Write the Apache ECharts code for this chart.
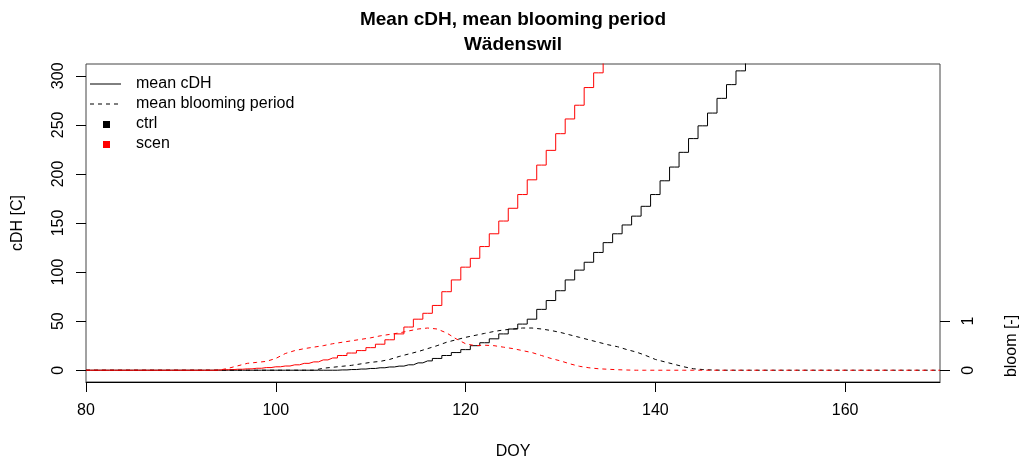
<!DOCTYPE html>
<html>
<head>
<meta charset="utf-8">
<script src="https://cdn.jsdelivr.net/npm/echarts@6/dist/echarts.min.js"></script>
<style>
html,body{margin:0;padding:0;background:#fff;}
#chart{width:1022px;height:466px;}
</style>
</head>
<body>
<div id="chart"></div>
<script>
// Day of year (x values)
const days = [80,81,82,83,84,85,86,87,88,89,90,91,92,93,94,95,96,97,98,99,
  100,101,102,103,104,105,106,107,108,109,110,111,112,113,114,115,116,117,118,119,
  120,121,122,123,124,125,126,127,128,129,130,131,132,133,134,135,136,137,138,139,
  140,141,142,143,144,145,146,147,148,149,150,151,152,153,154,155,156,157,158,159,
  160,161,162,163,164,165,166,167,168,169,170];

// mean cDH, ctrl (from day 80)
const ctrlCDH = [0,0,0,0,0,0,0,0,0,0,0,0,0,0,0,0,0,0,0,0,
  0,0,0,0,0,0,0,0.3,0.7,1.2,1.8,2.5,3.3,4.2,5.5,7.5,9.5,12,15,18,
  21,25,28,32,37,42,47,52,62,71,81,92,102,110,120,130,139,148,157,167,
  179,193,207,222,236,249,262,277,291,305,320,335];

// mean cDH, scen (from day 80)
const scenCDH = [0,0,0,0,0,0,0,0,0,0,0,0,0,0,0.3,0.6,1,1.4,2,2.7,
  3.5,4.3,5.5,7,8.5,10.5,12.5,15,17.5,20,23,26.5,31,37,44,52,58,66,80,92,
  105,114,126,139,152,165,179,194,209,224,241,256,270,288,303,318,333];

// mean blooming period [-], ctrl (from day 80)
const ctrlBloom = [0,0,0,0,0,0,0,0,0,0,0,0,0,0,0,0,0,0,0,0,
  0,0,0,0,0,0.04,0.06,0.08,0.10,0.13,0.16,0.18,0.22,0.28,0.33,0.38,0.44,0.50,0.57,0.62,
  0.67,0.71,0.75,0.79,0.82,0.84,0.86,0.86,0.84,0.81,0.77,0.72,0.67,0.62,0.57,0.52,0.48,0.42,0.37,0.30,
  0.22,0.17,0.12,0.07,0.03,0.014,0.004,0,0,0,0,0,0,0,0,0,0,0,0,0,
  0,0,0,0,0,0,0,0,0,0,0];

// mean blooming period [-], scen (from day 80)
const scenBloom = [0,0,0,0,0,0,0,0,0,0,0,0,0,0,0,0.04,0.09,0.14,0.16,0.18,
  0.24,0.34,0.40,0.44,0.47,0.50,0.54,0.57,0.60,0.63,0.66,0.70,0.73,0.76,0.80,0.84,0.86,0.84,0.76,0.64,
  0.54,0.50,0.51,0.50,0.47,0.44,0.40,0.36,0.30,0.24,0.19,0.13,0.08,0.05,0.03,0.02,0.01,0.004,0,0,
  0,0,0,0,0,0,0,0,0,0,0,0,0,0,0,0,0,0,0,0,
  0,0,0,0,0,0,0,0,0,0,0];

const xTicks = [80,100,120,140,160];
const yTicks = [0,50,100,150,200,250,300];
const bloomTicks = [0,1];

const titleMain = 'Mean cDH, mean blooming period';
const titleSub = 'Wädenswil';
const legendLabels = ['mean cDH','mean blooming period','ctrl','scen'];

function pairs(vals){ return vals.map((v,i)=>[days[i], v]); }

const FONT = "'Liberation Sans', Arial, Helvetica, sans-serif";
const chart = echarts.init(document.getElementById('chart'), null, {renderer:'canvas'});

const option = {
  animation:false,
  backgroundColor:'#fff',
  grid:{left:86,right:82,top:64,bottom:84,show:true,borderColor:'#444',borderWidth:1,backgroundColor:'transparent'},
  xAxis:{
    type:'value',min:80,max:170,
    axisLine:{show:true,onZero:false,lineStyle:{color:'#000',width:1}},
    axisTick:{show:true,length:10,customValues:xTicks,lineStyle:{color:'#000'}},
    axisLabel:{customValues:xTicks,margin:21,color:'#000',fontSize:16,fontFamily:FONT},
    splitLine:{show:false}
  },
  yAxis:[{
    type:'value',min:-12,max:312,position:'left',
    axisLine:{show:false},
    axisTick:{show:true,length:10,customValues:yTicks,lineStyle:{color:'#000'}},
    axisLabel:{customValues:yTicks,rotate:90,margin:19,color:'#000',fontSize:16,fontFamily:FONT},
    splitLine:{show:false}
  },{
    type:'value',min:-0.24,max:6.24,position:'right',
    axisLine:{show:false},
    axisTick:{show:true,length:10,customValues:bloomTicks,lineStyle:{color:'#000'}},
    axisLabel:{customValues:bloomTicks,rotate:90,margin:21,color:'#000',fontSize:16,fontFamily:FONT},
    splitLine:{show:false}
  }],
  series:[
    {name:'ctrl cDH',type:'line',yAxisIndex:0,data:pairs(ctrlCDH),step:'middle',showSymbol:false,clip:true,
      lineStyle:{color:'#000',width:1},itemStyle:{color:'#000'},z:2},
    {name:'scen cDH',type:'line',yAxisIndex:0,data:pairs(scenCDH),step:'middle',showSymbol:false,clip:true,
      lineStyle:{color:'#ff0000',width:1},itemStyle:{color:'#ff0000'},z:3},
    {name:'ctrl bloom',type:'line',yAxisIndex:1,data:pairs(ctrlBloom),showSymbol:false,clip:true,
      lineStyle:{color:'#000',width:1,type:[4,4]},itemStyle:{color:'#000'},z:4},
    {name:'scen bloom',type:'line',yAxisIndex:1,data:pairs(scenBloom),showSymbol:false,clip:true,
      lineStyle:{color:'#ff0000',width:1,type:[4,4]},itemStyle:{color:'#ff0000'},z:5}
  ],
  graphic:[
    {type:'text',x:513,y:20,style:{text:titleMain,font:"bold 19px "+FONT,fill:'#000',textAlign:'center',textVerticalAlign:'middle'}},
    {type:'text',x:513,y:45,style:{text:titleSub,font:"bold 19px "+FONT,fill:'#000',textAlign:'center',textVerticalAlign:'middle'}},
    {type:'text',x:513,y:452,style:{text:'DOY',font:"16px "+FONT,fill:'#000',textAlign:'center',textVerticalAlign:'middle'}},
    {type:'text',x:18,y:223,rotation:Math.PI/2,style:{text:'cDH [C]',font:"16px "+FONT,fill:'#000',textAlign:'center',textVerticalAlign:'middle'}},
    {type:'text',x:1012,y:346,rotation:Math.PI/2,style:{text:'bloom [-]',font:"16px "+FONT,fill:'#000',textAlign:'center',textVerticalAlign:'middle'}},
    // legend
    {type:'line',shape:{x1:90,y1:84,x2:121,y2:84},style:{stroke:'#000',lineWidth:1}},
    {type:'line',shape:{x1:90,y1:104,x2:121,y2:104},style:{stroke:'#000',lineWidth:1,lineDash:[4,4]}},
    {type:'rect',shape:{x:103,y:121,width:7,height:7},style:{fill:'#000'}},
    {type:'rect',shape:{x:103,y:141,width:7,height:7},style:{fill:'#ff0000'}},
    {type:'text',x:136,y:84,style:{text:legendLabels[0],font:"16px "+FONT,fill:'#000',textVerticalAlign:'middle'}},
    {type:'text',x:136,y:104,style:{text:legendLabels[1],font:"16px "+FONT,fill:'#000',textVerticalAlign:'middle'}},
    {type:'text',x:136,y:124,style:{text:legendLabels[2],font:"16px "+FONT,fill:'#000',textVerticalAlign:'middle'}},
    {type:'text',x:136,y:144,style:{text:legendLabels[3],font:"16px "+FONT,fill:'#000',textVerticalAlign:'middle'}}
  ]
};
chart.setOption(option);
</script>
</body>
</html>
